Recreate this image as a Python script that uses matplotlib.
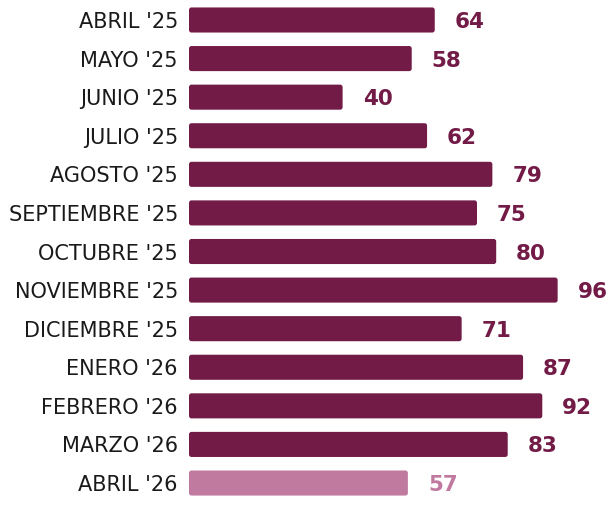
import matplotlib
matplotlib.use("Agg")
import matplotlib.pyplot as plt
from matplotlib.patches import FancyBboxPatch

categories = ["ABRIL '25", "MAYO '25", "JUNIO '25", "JULIO '25", "AGOSTO '25",
              "SEPTIEMBRE '25", "OCTUBRE '25", "NOVIEMBRE '25", "DICIEMBRE '25",
              "ENERO '26", "FEBRERO '26", "MARZO '26", "ABRIL '26"]
values = [64, 58, 40, 62, 79, 75, 80, 96, 71, 87, 92, 83, 57]

dark = "#731b47"
light = "#c17a9f"
colors = [dark] * (len(values) - 1) + [light]

W, H = 609, 507
fig = plt.figure(figsize=(W / 100, H / 100), dpi=100)
ax = fig.add_axes([189 / W, 0, (W - 189) / W, 1])

ypos = list(range(len(values)))
bars = ax.barh(ypos, values, height=0.65, color=colors)
ax.set_xlim(0, (W - 189) / 3.84)
ax.set_ylim(len(values) - 1 + 24 / 38.6, -20 / 38.6)

# rounded corners
px_x = 3.84
px_y = 38.6
for b, c in zip(bars, colors):
    b.set_visible(False)
    p = FancyBboxPatch((b.get_x(), b.get_y()), b.get_width(), b.get_height(),
                       boxstyle="round,pad=0,rounding_size=%f" % (2.5 / px_x),
                       mutation_aspect=px_x / px_y, facecolor=c, edgecolor="none")
    ax.add_patch(p)

for y, v, c in zip(ypos, values, colors):
    ax.text(v + 20 / px_x, y, str(v), va="center_baseline", ha="left", fontsize=15.5,
            fontweight="bold", color=c, family="DejaVu Sans")

ax.set_yticks(ypos)
ax.set_yticklabels(categories, fontsize=15, color="#1a1a1a", family="DejaVu Sans")
ax.tick_params(axis="y", length=0, pad=8)
ax.set_xticks([])
for s in ax.spines.values():
    s.set_visible(False)

fig.savefig("out.png", dpi=100)
